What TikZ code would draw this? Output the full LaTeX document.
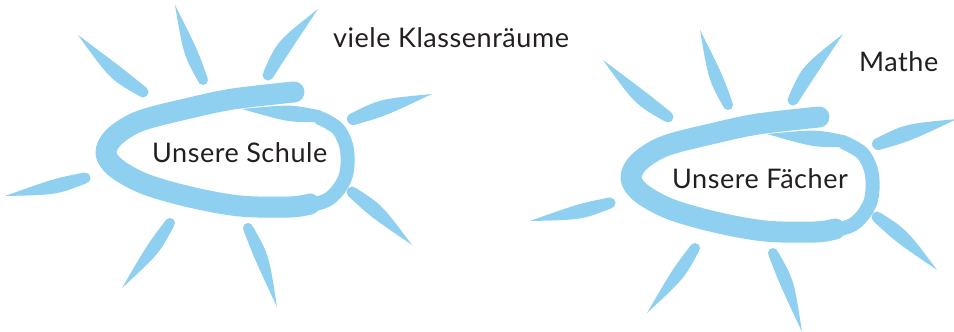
\documentclass[tikz,border=0pt]{standalone}
\usepackage{fontspec}
\setmainfont[LetterSpace=2]{Lato}
\usetikzlibrary{calc}
\definecolor{sunblue}{RGB}{143,208,241}
\definecolor{inkgray}{RGB}{35,31,32}
\tikzset{
  raystyle/.style={fill=sunblue, draw=none},
  loopstyle/.style={draw=sunblue, line width=21pt, line cap=round, line join=round},
  loopthin/.style={draw=sunblue, line width=14pt, line cap=round, line join=round},
  labelstyle/.style={anchor=base west, inner sep=0pt, text=inkgray, font=\fontsize{27}{30}\selectfont}
}
% thick end #1, tip #2, half width #3, bend #4
\newcommand\sunray[4]{%
  \coordinate (rA) at #1;
  \coordinate (rB) at #2;
  \coordinate (rM) at ($(rA)!0.38!(rB)$);
  \coordinate (rC) at ($(rM)!#4!90:(rB)$);
  \fill[raystyle] ($(rA)!#3!90:(rB)$) .. controls ($(rC)!1.5*#3!90:(rB)$) .. (rB)
     .. controls ($(rC)!1.5*#3!-90:(rB)$) .. ($(rA)!#3!-90:(rB)$) -- cycle;
  \fill[raystyle] (rA) circle (#3);
}
\newcommand\sunbody{%
  \sunray{(143,92)}{(78,35)}{5.5pt}{4pt}
  \sunray{(203,80)}{(175,5)}{5pt}{2pt}
  \sunray{(268,75)}{(318,9)}{5.5pt}{5pt}
  \sunray{(353,119)}{(432,94)}{6pt}{2pt}
  \sunray{(352,192)}{(412,245)}{5.5pt}{2pt}
  \sunray{(248,228)}{(277,307)}{5pt}{3pt}
  \sunray{(170,223)}{(122,288)}{5pt}{2pt}
  \sunray{(85,178)}{(5,196)}{5.5pt}{2pt}
  \draw[loopstyle] plot[smooth, tension=0.55] coordinates {
    (294,92) (233,99) (190,108) (140,121) (114,137) (106,153) (116,168)
    (145,184) (190,197) (240,206) (290,207) (310,204)};
  \draw[loopthin] plot[smooth, tension=0.55] coordinates {
    (290,209) (327,200) (345,178) (347,150) (338,129) (320,118)};
  \sunray{(318,116)}{(242,109)}{6pt}{0pt}
}
\begin{document}
\begin{tikzpicture}[x=1pt, y=-1pt]
  \useasboundingbox (0,0) rectangle (954,332);
  \begin{scope}
    \sunbody
  \end{scope}
  \begin{scope}[shift={(525,25)}]
    \sunbody
  \end{scope}
  \node[labelstyle] (schule) at (152,162) {Unsere Schule};
  \node[labelstyle] (raeume) at (333,47) {viele Klassenräume};
  \node[labelstyle] (faecher) at (672,188) {Unsere Fächer};
  \node[labelstyle] (mathe) at (859,71) {Mathe};
\end{tikzpicture}
\end{document}
